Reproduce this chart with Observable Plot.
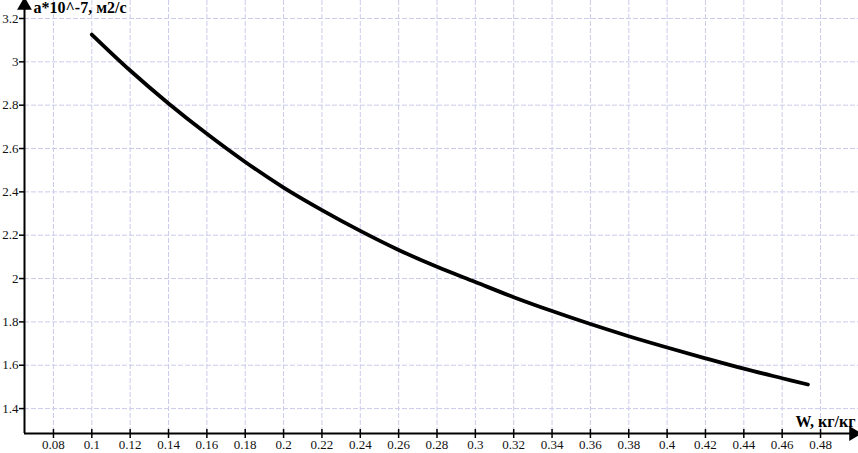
<!DOCTYPE html>
<html>
<head>
<meta charset="utf-8">
<script src="https://cdn.jsdelivr.net/npm/d3@7"></script>
<script src="https://cdn.jsdelivr.net/npm/@observablehq/plot@0.6"></script>
<style>
  html, body { margin: 0; padding: 0; background: #fff; }
  #chart svg { display: block; }
  #chart svg g[aria-label="x-axis tick label"], #chart svg g[aria-label="y-axis tick label"] {
    font-family: "Liberation Serif", serif !important; font-size: 13px !important;
  }
</style>
</head>
<body>
<div id="chart"></div>
<script>
const W = [0.1, 0.12, 0.14, 0.16, 0.18, 0.2, 0.22, 0.24, 0.26, 0.28, 0.3, 0.32, 0.34, 0.36, 0.38, 0.4, 0.42, 0.44, 0.46, 0.4734];
const A = [3.126, 2.960, 2.808, 2.668, 2.538, 2.420, 2.316, 2.220, 2.132, 2.054, 1.984, 1.914, 1.850, 1.790, 1.734, 1.682, 1.632, 1.584, 1.540, 1.511];
const xTicks = [0.08, 0.1, 0.12, 0.14, 0.16, 0.18, 0.2, 0.22, 0.24, 0.26, 0.28, 0.3, 0.32, 0.34, 0.36, 0.38, 0.4, 0.42, 0.44, 0.46, 0.48];
const yTicks = [1.4, 1.6, 1.8, 2, 2.2, 2.4, 2.6, 2.8, 3, 3.2];
const xLabel = "W, кг/кг";
const yLabel = "a*10^-7, м2/с";

const xDomain = [0.0649, 0.4998];
const yDomain = [1.285, 3.283];
const data = W.map((w, i) => ({w, a: A[i]}));
const fmt = d => String(+d.toFixed(2));
const gridColor = "#cbcbec";
const serif = "Liberation Serif, DejaVu Serif, serif";

const chart = Plot.plot({
  width: 858,
  height: 453,
  marginLeft: 24,
  marginRight: 0,
  marginTop: 0,
  marginBottom: 20,
  style: "font-family: 'Liberation Serif', serif; font-size: 13px; color: #111; background: #fff;",
  x: {domain: xDomain, axis: null},
  y: {domain: yDomain, axis: null},
  marks: [
    Plot.gridX(xTicks, {stroke: gridColor, strokeOpacity: 1, strokeDasharray: "5,2"}),
    Plot.gridY(yTicks, {stroke: gridColor, strokeOpacity: 1, strokeDasharray: "5,2"}),
    Plot.axisX({ticks: xTicks, tickSize: 9, dy: -4, tickFormat: () => "", stroke: "#000", strokeWidth: 1.5}),
    Plot.axisX({ticks: xTicks, tickSize: 0, tickPadding: 6, tickFormat: fmt, fill: "#111", fontFamily: serif, fontSize: 13}),
    Plot.axisY({ticks: yTicks, tickSize: 5, tickPadding: 1, tickFormat: fmt, stroke: "#000", strokeWidth: 1.5, fill: "#111", fontFamily: serif, fontSize: 13}),
    Plot.ruleY([yDomain[0]], {stroke: "#000", strokeWidth: 2}),
    Plot.ruleX([xDomain[0]], {stroke: "#000", strokeWidth: 2}),
    Plot.dot([{x: xDomain[0], y: yDomain[1]}], {x: "x", y: "y", symbol: "triangle", r: 5.5, fill: "#000", stroke: null, dy: 5}),
    Plot.dot([{x: xDomain[1], y: yDomain[0]}], {x: "x", y: "y", symbol: "triangle", r: 5.5, fill: "#000", stroke: null, rotate: 90, dx: -5}),
    Plot.line(data, {x: "w", y: "a", stroke: "#000", strokeWidth: 3.8, curve: "catmull-rom"}),
    Plot.text([yLabel], {frameAnchor: "top-left", dx: 9, dy: 1, textAnchor: "start", lineAnchor: "top", fontWeight: "bold", fontSize: 16, fontFamily: serif, fill: "#000"}),
    Plot.text([xLabel], {frameAnchor: "bottom-right", dx: -3, dy: -7, textAnchor: "end", lineAnchor: "bottom", fontWeight: "bold", fontSize: 16, fontFamily: serif, fill: "#000"})
  ]
});
document.getElementById("chart").append(chart);
</script>
</body>
</html>
